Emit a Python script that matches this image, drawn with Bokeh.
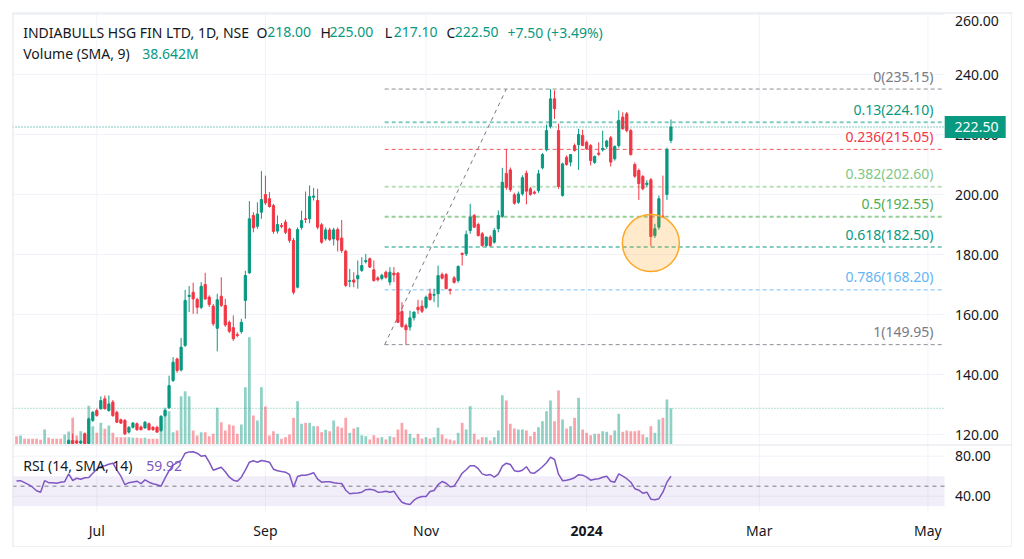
from bokeh.plotting import figure
from bokeh.models import ColumnDataSource, Range1d
from bokeh.layouts import column
from bokeh.embed import file_html
from bokeh.resources import INLINE
from bokeh.core.properties import value

# ---------------- data ----------------
opens = [114.8, 114.0, 115.2, 114.4, 113.8, 113.2, 112.7, 112.3, 115.3, 114.6,
         114.2, 113.9, 113.6, 116.9, 118.0, 117.8, 117.2, 120.2, 117.0, 124.7,
         128.0, 128.6, 131.9, 128.0, 130.8, 127.4, 124.9, 124.7, 120.8, 122.4,
         123.6, 122.5, 122.2, 123.6, 122.4, 122.4, 121.3, 126.3, 128.9, 138.0,
         145.2, 141.5, 149.7, 166.0, 167.4, 165.0, 162.4, 170.0, 165.8, 162.8,
         155.4, 166.1, 163.0, 157.4, 155.6, 153.3, 154.3, 164.7, 173.9, 193.0,
         189.4, 194.1, 200.0, 198.6, 196.3, 187.8, 189.7, 190.8, 188.5, 184.7,
         169.1, 189.0, 191.9, 191.9, 199.1, 198.0, 189.9, 185.2, 188.2, 185.2,
         188.3, 185.5, 181.1, 171.0, 171.5, 171.9, 174.7, 177.6, 178.6, 174.9,
         172.2, 172.0, 174.1, 170.8, 173.8, 173.8, 161.0, 156.3, 155.8, 158.9,
         162.4, 162.8, 162.4, 166.9, 166.4, 166.9, 173.3, 173.3, 168.3, 172.2,
         171.3, 180.4, 180.2, 188.0, 193.0, 190.0, 186.9, 183.0, 185.8, 184.1,
         188.6, 192.7, 207.0, 208.2, 199.9, 197.4, 200.2, 207.1, 201.9, 200.8,
         201.3, 208.9, 214.9, 222.7, 231.9, 221.3, 199.7, 212.4, 210.8, 216.3,
         216.6, 219.7, 217.4, 216.3, 210.7, 213.8, 214.9, 216.0, 218.9, 211.9,
         216.3, 225.8, 226.9, 221.3, 210.0, 208.0, 206.0, 203.3, 204.9, 186.3,
         189.1, 192.8, 200.0, 218.0]
highs = [115.4, 115.6, 115.5, 114.9, 114.3, 113.8, 113.2, 115.8, 115.6, 115.0,
         114.6, 114.3, 116.2, 118.4, 120.3, 118.3, 118.1, 120.6, 125.6, 127.8,
         128.6, 132.7, 133.0, 133.0, 131.5, 127.9, 125.3, 125.2, 122.8, 124.2,
         124.0, 123.0, 124.5, 124.0, 122.8, 122.9, 126.5, 128.4, 139.6, 145.8,
         145.6, 152.2, 168.2, 169.5, 170.6, 165.6, 170.8, 173.9, 166.4, 163.5,
         166.9, 172.4, 165.2, 158.0, 159.7, 154.1, 158.6, 174.6, 197.8, 194.1,
         197.4, 207.8, 206.3, 200.8, 196.9, 193.0, 190.5, 191.6, 188.9, 185.5,
         189.0, 194.6, 201.0, 203.0, 202.2, 201.9, 190.5, 189.0, 188.9, 188.9,
         189.0, 191.5, 181.6, 175.2, 174.1, 178.0, 179.1, 180.2, 179.0, 178.0,
         172.8, 173.6, 174.6, 175.8, 175.8, 174.1, 164.1, 157.0, 161.3, 161.0,
         164.9, 164.7, 166.3, 168.6, 168.6, 176.3, 174.0, 173.8, 168.7, 172.8,
         176.4, 180.6, 188.0, 196.9, 193.5, 190.6, 187.5, 186.0, 186.4, 188.8,
         194.7, 208.9, 215.2, 209.0, 200.6, 201.0, 206.4, 208.0, 202.5, 201.3,
         208.2, 213.8, 223.3, 235.15, 234.7, 223.6, 210.6, 213.0, 213.5, 217.0,
         221.9, 221.6, 218.0, 216.8, 213.0, 217.4, 221.3, 218.2, 219.5, 216.4,
         228.0, 227.4, 227.5, 221.9, 210.7, 208.6, 206.5, 204.8, 205.5, 190.2,
         199.7, 206.3, 215.6, 225.0]
lows = [113.6, 113.7, 114.1, 113.5, 112.9, 112.4, 111.9, 112.1, 114.2, 113.8,
        113.5, 113.1, 113.4, 116.5, 116.7, 116.8, 116.8, 116.7, 116.8, 124.2,
        126.0, 128.2, 128.3, 127.6, 125.9, 123.8, 123.5, 119.8, 120.3, 122.0,
        121.2, 121.4, 121.9, 121.3, 121.2, 120.5, 120.9, 125.9, 128.5, 137.5,
        140.6, 141.0, 149.2, 160.8, 160.2, 160.2, 161.8, 164.8, 162.5, 156.2,
        147.7, 162.5, 155.9, 153.8, 151.2, 152.4, 153.6, 158.6, 173.5, 187.4,
        188.6, 191.9, 196.5, 195.6, 186.9, 187.0, 188.7, 186.8, 183.9, 166.7,
        168.7, 188.3, 190.5, 190.4, 198.0, 188.4, 183.6, 184.6, 184.5, 183.0,
        181.0, 180.5, 169.2, 169.1, 169.1, 168.6, 174.2, 177.0, 175.5, 171.0,
        171.0, 171.4, 171.9, 169.7, 170.8, 157.2, 155.6, 149.95, 154.6, 158.0,
        160.2, 160.5, 161.8, 164.6, 164.1, 162.4, 171.7, 168.4, 166.6, 170.3,
        170.6, 176.3, 179.5, 186.9, 188.9, 186.0, 182.6, 182.5, 182.6, 183.6,
        187.4, 192.2, 201.6, 200.9, 196.6, 196.9, 199.6, 196.7, 199.6, 200.0,
        200.6, 208.4, 214.4, 222.0, 225.2, 201.9, 199.3, 209.6, 209.4, 214.3,
        208.2, 216.1, 214.9, 209.7, 210.2, 212.9, 214.3, 215.2, 209.3, 211.3,
        215.6, 221.6, 220.7, 213.0, 205.6, 198.2, 201.4, 202.6, 182.8, 185.5,
        188.3, 192.2, 198.2, 217.1]
closes = [114.0, 115.2, 114.4, 113.8, 113.2, 112.7, 112.3, 115.3, 114.6, 114.2,
          113.9, 113.6, 115.9, 118.0, 117.0, 117.2, 117.7, 117.0, 125.2, 127.4,
          126.3, 131.3, 128.6, 130.2, 126.3, 124.1, 123.8, 120.2, 122.4, 123.8,
          121.6, 121.6, 124.1, 121.6, 121.6, 120.8, 126.0, 128.0, 136.3, 144.1,
          141.3, 149.1, 164.7, 166.4, 165.2, 162.4, 169.4, 165.2, 163.3, 156.9,
          164.9, 163.0, 156.5, 154.4, 151.9, 153.0, 157.4, 173.0, 191.9, 188.9,
          193.5, 198.3, 197.2, 196.0, 187.7, 190.0, 189.3, 187.4, 184.7, 167.4,
          188.3, 191.3, 191.7, 199.3, 199.5, 189.1, 184.1, 188.2, 185.0, 188.2,
          184.8, 181.3, 169.7, 171.3, 170.8, 173.0, 176.3, 178.0, 175.8, 171.3,
          171.6, 173.1, 172.4, 174.1, 173.2, 157.4, 156.0, 154.9, 158.9, 160.8,
          161.6, 161.1, 165.8, 165.0, 166.7, 173.0, 172.1, 168.6, 168.0, 170.7,
          176.0, 180.0, 186.7, 192.4, 189.1, 186.3, 183.0, 185.8, 183.0, 188.0,
          193.0, 204.1, 202.4, 201.6, 197.1, 200.2, 205.6, 201.1, 200.0, 200.4,
          206.9, 213.3, 221.3, 231.9, 228.6, 202.7, 210.2, 210.0, 213.3, 214.7,
          220.0, 216.3, 215.2, 211.3, 212.7, 213.4, 215.4, 217.8, 210.8, 216.0,
          224.7, 221.9, 221.3, 213.3, 206.1, 203.6, 201.9, 203.8, 186.0, 188.6,
          198.6, 192.6, 215.0, 222.5]
volumes_m = [14.9, 16.1, 10.2, 10.2, 10.2, 10.2, 8.4, 26.9, 12.0, 10.2,
             10.2, 10.2, 17.9, 23.3, 47.8, 16.1, 23.8, 20.9, 69.3, 32.8,
             20.9, 38.8, 28.1, 34.0, 20.9, 13.1, 13.1, 13.1, 13.1, 12.0,
             12.0, 11.3, 12.0, 10.2, 10.2, 10.2, 50.7, 65.7, 59.6, 22.0,
             25.1, 86.5, 95.4, 86.5, 25.1, 16.1, 22.0, 22.0, 14.9, 19.2,
             65.7, 39.9, 25.1, 35.8, 34.0, 19.2, 35.8, 102.6, 192.1, 51.9,
             43.0, 102.6, 68.0, 16.1, 23.8, 19.2, 10.2, 13.1, 17.9, 47.8,
             77.5, 37.1, 38.8, 38.8, 32.8, 32.8, 22.0, 26.3, 23.8, 43.0,
             32.2, 29.9, 47.8, 20.9, 28.6, 31.0, 16.6, 14.9, 9.0, 16.6,
             12.0, 13.1, 9.0, 14.9, 13.1, 26.9, 38.8, 26.9, 19.2, 12.0,
             19.2, 10.7, 13.1, 10.7, 13.1, 29.9, 17.9, 10.7, 9.0, 7.2,
             20.9, 38.8, 26.9, 68.6, 19.2, 9.0, 13.1, 13.1, 7.2, 13.1,
             25.1, 88.2, 78.8, 37.1, 28.6, 26.9, 26.9, 25.1, 14.9, 22.7,
             31.0, 41.7, 59.6, 78.8, 41.7, 96.7, 44.8, 28.6, 32.8, 47.8,
             83.6, 26.9, 20.9, 16.6, 19.2, 19.2, 23.8, 22.7, 16.6, 25.1,
             55.0, 22.7, 25.1, 23.8, 23.8, 25.1, 17.9, 13.1, 32.8, 20.9,
             44.8, 47.8, 80.6, 64.78]
rsi_values = [55.3, 55.5, 53.5, 51.5, 49.0, 45.5, 44.0, 55.5, 53.5, 53.5,
              53.0, 54.0, 54.5, 62.4, 55.7, 58.0, 57.0, 58.5, 58.7, 63.0,
              67.0, 69.7, 70.5, 72.0, 73.0, 66.0, 60.0, 51.5, 53.5, 54.3,
              55.0, 52.5, 56.3, 54.0, 52.5, 51.5, 50.0, 58.0, 65.5, 71.0,
              73.5, 75.7, 83.0, 84.3, 84.5, 83.0, 80.0, 80.7, 74.0, 66.0,
              67.5, 69.0, 64.5, 59.0, 56.0, 55.0, 59.0, 66.0, 74.0, 75.4,
              74.0, 75.7, 75.0, 74.0, 67.0, 65.5, 64.7, 64.0, 61.5, 49.0,
              59.7, 61.0, 61.0, 62.0, 63.5, 57.0, 54.0, 54.5, 54.5, 53.5,
              53.0, 52.7, 46.0, 42.4, 43.0, 43.3, 44.0, 46.5, 47.0, 46.3,
              44.0, 44.3, 45.0, 44.0, 45.0, 39.0, 34.0, 32.5, 31.7, 36.0,
              38.5, 39.7, 39.7, 44.7, 45.7, 51.5, 54.7, 53.0, 49.5, 50.0,
              56.3, 63.0, 66.5, 70.5, 70.5, 67.5, 62.3, 61.0, 61.7, 59.0,
              62.0, 70.0, 73.0, 71.7, 65.5, 64.7, 66.0, 69.5, 63.5, 63.0,
              66.0, 69.5, 73.5, 79.0, 76.7, 62.0, 55.5, 56.0, 57.0, 58.5,
              61.5, 61.0, 59.0, 56.0, 57.0, 57.5, 59.0, 60.0, 55.0, 54.0,
              62.3, 60.0, 57.5, 54.0, 47.5, 46.0, 43.0, 44.0, 37.0, 36.5,
              37.5, 44.0, 54.0, 59.92]

month_ticks = [20, 62, 102, 142, 185, 227]
month_labels = ["Jul", "Sep", "Nov", "2024", "Mar", "May"]
month_styles = ["normal", "normal", "normal", "bold", "normal", "normal"]
price_ticks = [120, 140, 160, 180, 200, 220, 240, 260]
rsi_ticks = [40, 80]
rsi_band = [30, 60]
rsi_mid = 50

fib_ratio_labels = ["0", "0.13", "0.236", "0.382", "0.5", "0.618", "0.786", "1"]
fib_prices = [235.15, 224.10, 215.05, 202.60, 192.55, 182.50, 168.20, 149.95]
fib_colors = ["#787b86", "#089981", "#f23645", "#81c784", "#4caf50", "#089981", "#64b5f6", "#787b86"]
fib_anchor_bars = [91.7, 122.0]
highlight_bar = [158]
highlight_price = [183.8]

n = len(closes)
assert len(opens) == n and len(highs) == n and len(lows) == n
assert len(volumes_m) == n and len(rsi_values) == n

# ---------------- styling / geometry ----------------
FONT = "Noto Sans"
UP, DOWN = "#089981", "#f23645"
TEXT = "#131722"
GRID = "#f0f3fa"
BORDER = "#e0e3eb"
RSI_COL = "#7e57c2"

BAR0_PX, BAR_PX = 16.0, 4.015           # page x of bar 0, px per bar
PAGE_L, PANE_R, PAGE_R = 12, 944, 1012   # chart left, pane right edge, outer right
MAIN_TOP, MAIN_BOT, RSI_BOT, OUTER_BOT = 12, 444, 511, 547
PRICE_REF, PRICE_REF_Y, PRICE_PX = 240.0, 74.0, 3.0
RSI_REF, RSI_REF_Y = 80.0, 455.7
VOL_PER_PX = 1.79
LABEL_X = 954.5
TOP_LABEL_MIN_Y = 20.0   # keep the topmost scale label fully inside the chart


def bx(px):
    return (px - BAR0_PX) / BAR_PX


def yp(py):
    return PRICE_REF - (py - PRICE_REF_Y) / PRICE_PX


def yr(py):
    return RSI_REF - (py - RSI_REF_Y)


W = PAGE_R - PAGE_L
x_range = Range1d(bx(PAGE_L), bx(PAGE_R))
X_START, X_PANE_END, X_END = bx(PAGE_L), bx(PANE_R), bx(PAGE_R)
xs = list(range(n))
cols = [UP if c >= o else DOWN for o, c in zip(opens, closes)]

src = ColumnDataSource(dict(
    x=xs, o=opens, h=highs, l=lows, c=closes, vol=volumes_m, color=cols,
    btop=[max(o, c) for o, c in zip(opens, closes)],
    bbot=[min(o, c) for o, c in zip(opens, closes)],
))


def make_fig(height, y_range):
    f = figure(width=W, height=height, x_range=x_range, y_range=y_range,
               x_axis_location=None, y_axis_location=None,
               output_backend="svg", toolbar_location=None,
               min_border_left=0, min_border_right=0, min_border_top=0, min_border_bottom=0,
               background_fill_color="white", border_fill_color="white",
               outline_line_color=None)
    f.grid.visible = False
    return f


# ---------------- main price pane ----------------
p = make_fig(MAIN_BOT - MAIN_TOP, Range1d(yp(MAIN_BOT), yp(MAIN_TOP)))
p.extra_y_ranges = {"vol": Range1d(0, (MAIN_BOT - MAIN_TOP) * VOL_PER_PX)}

# grid
p.segment(x0=month_ticks, x1=month_ticks, y0=yp(MAIN_BOT), y1=yp(MAIN_TOP),
          line_color=GRID, line_width=1)
p.segment(x0=X_START, x1=X_PANE_END, y0=price_ticks, y1=price_ticks,
          line_color=GRID, line_width=1)

# volume
p.vbar(x="x", top="vol", bottom=0, width=0.68, fill_color="color", fill_alpha=0.45,
       line_color=None, y_range_name="vol", source=src)
p.line(x=[X_START, X_PANE_END], y=[volumes_m[-1]] * 2, y_range_name="vol",
       line_color=UP, line_alpha=0.6, line_dash="1 2", line_width=1)

# fibonacci levels
fib_src = ColumnDataSource(dict(
    x0=[fib_anchor_bars[0]] * len(fib_prices), x1=[X_PANE_END] * len(fib_prices),
    y=fib_prices, color=fib_colors,
    width=[1, 2, 1, 2, 2, 2, 1, 1], alpha=[0.85, 0.5, 0.85, 0.55, 0.6, 0.5, 0.85, 0.85],
    lx=[bx(933)] * len(fib_prices), ly=[v + 13 / PRICE_PX for v in fib_prices],
    text=[f"{r}({v:.2f})" for r, v in zip(fib_ratio_labels, fib_prices)],
))
p.segment(x0="x0", x1="x1", y0="y", y1="y", line_color="color", line_width="width",
          line_alpha="alpha", line_dash="4 3", source=fib_src)
p.line(x=fib_anchor_bars, y=[fib_prices[-1], fib_prices[0]], line_color="#787b86",
       line_dash="4 4", line_width=1)
p.text(x="lx", y="ly", text="text", text_color="color", text_align="right",
       text_baseline="middle", text_font=value(FONT), text_font_size="14px", source=fib_src)

# candles
p.segment(x0="x", x1="x", y0="l", y1="h", line_color="color", line_width=1, source=src)
p.vbar(x="x", top="btop", bottom="bbot", width=0.55, fill_color="color",
       line_color="color", line_width=1, source=src)

# last price line
p.line(x=[X_START, X_PANE_END], y=[closes[-1]] * 2, line_color=UP,
       line_dash="1 2", line_width=1)

# highlight circle
p.scatter(x=highlight_bar, y=highlight_price, marker="circle", size=57,
          fill_color="#ff9800", fill_alpha=0.2, line_color="#ffa726", line_width=1.5)

# price scale labels (topmost label kept inside the chart edge)
label_y = [min(t, yp(TOP_LABEL_MIN_Y)) for t in price_ticks]
p.text(x=[bx(LABEL_X)] * len(price_ticks), y=label_y,
       text=[f"{t:.2f}" for t in price_ticks], text_color=TEXT, text_align="left",
       text_baseline="middle", text_font=value(FONT), text_font_size="14px")

# last price tag on the scale
p.rect(x=[bx(974.7)], y=[closes[-1]], width=61, height=22, width_units="screen",
       height_units="screen", fill_color=UP, line_color=None)
p.text(x=[bx(976)], y=[closes[-1]], text=[f"{closes[-1]:.2f}"], text_color="white",
       text_align="center", text_baseline="middle", text_font=value(FONT),
       text_font_size="14px")

# legend header
chg = closes[-1] - closes[-2]
pct = chg / closes[-2] * 100
vol_sma = sum(volumes_m[-9:]) / 9
header = [
    ("INDIABULLS HSG FIN LTD, 1D, NSE", 22.7, 31.7, TEXT),
    ("O", 256, 31.7, TEXT), (f"{opens[-1]:.2f}", 266.7, 31.7, UP),
    ("H", 320, 31.7, TEXT), (f"{highs[-1]:.2f}", 329, 31.7, UP),
    ("L", 384.3, 31.7, TEXT), (f"{lows[-1]:.2f}", 393.3, 31.7, UP),
    ("C", 446, 31.7, TEXT), (f"{closes[-1]:.2f}", 454.3, 31.7, UP),
    (f"{chg:+.2f} ({pct:+.2f}%)", 507, 31.7, UP),
    ("Volume (SMA, 9)", 22.7, 53.3, TEXT), (f"{vol_sma:.3f}M", 141.7, 53.3, UP),
]
p.text(x=[bx(h[1]) for h in header], y=[yp(h[2]) for h in header],
       text=[h[0] for h in header], text_color=[h[3] for h in header],
       text_align="left", text_baseline="middle", text_font=value(FONT),
       text_font_size="14px")

# outer border (top, left, right) of the chart
p.line(x=[X_START, X_END], y=[yp(MAIN_TOP)] * 2, line_color=BORDER, line_width=2)
p.segment(x0=[X_START, X_END], x1=[X_START, X_END], y0=yp(MAIN_BOT), y1=yp(MAIN_TOP),
          line_color=BORDER, line_width=2)

# ---------------- RSI pane ----------------
r = make_fig(OUTER_BOT - MAIN_BOT, Range1d(yr(OUTER_BOT), yr(MAIN_BOT)))

r.segment(x0=month_ticks, x1=month_ticks, y0=yr(RSI_BOT), y1=yr(MAIN_BOT),
          line_color=GRID, line_width=1)
r.segment(x0=X_START, x1=X_PANE_END, y0=rsi_ticks, y1=rsi_ticks,
          line_color=GRID, line_width=1)
r.quad(left=X_START, right=X_PANE_END, bottom=rsi_band[0], top=rsi_band[1],
       fill_color=RSI_COL, fill_alpha=0.1, line_color=None)
r.line(x=[X_START, X_PANE_END], y=[rsi_mid] * 2, line_color="#787b86",
       line_dash="4 4", line_width=1)
r.line(x=xs, y=rsi_values, line_color=RSI_COL, line_width=1.5)
# pane separator and outer border (left, right, bottom)
r.line(x=[X_START, X_END], y=[yr(MAIN_BOT)] * 2, line_color=BORDER, line_width=2)
r.line(x=[X_START, X_END], y=[yr(OUTER_BOT)] * 2, line_color=BORDER, line_width=2)
r.segment(x0=[X_START, X_END], x1=[X_START, X_END], y0=yr(OUTER_BOT), y1=yr(MAIN_BOT),
          line_color=BORDER, line_width=2)

# RSI scale labels
r.text(x=[bx(LABEL_X)] * len(rsi_ticks), y=rsi_ticks,
       text=[f"{t:.2f}" for t in rsi_ticks], text_color=TEXT, text_align="left",
       text_baseline="middle", text_font=value(FONT), text_font_size="14px")

# time scale labels
r.text(x=month_ticks, y=[yr(530)] * len(month_ticks), text=month_labels,
       text_color=TEXT, text_align="center", text_baseline="middle",
       text_font=value(FONT), text_font_size="14px", text_font_style=month_styles)

# RSI legend
r.text(x=[bx(22.7), bx(145.7)], y=[yr(465)] * 2,
       text=["RSI (14, SMA, 14)", f"{rsi_values[-1]:.2f}"], text_color=[TEXT, RSI_COL],
       text_align="left", text_baseline="middle", text_font=value(FONT),
       text_font_size="14px")

layout = column(p, r, margin=(PAGE_L, 0, 0, PAGE_L))
open("out.html", "w").write(file_html(layout, INLINE))
